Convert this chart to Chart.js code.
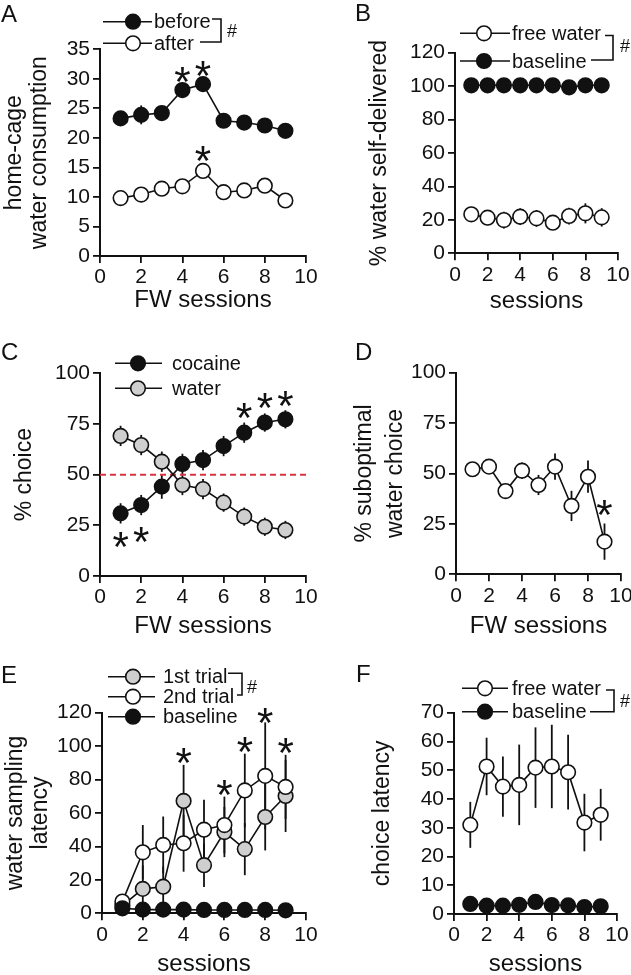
<!DOCTYPE html>
<html>
<head>
<meta charset="utf-8">
<script src="https://cdn.jsdelivr.net/npm/chart.js@4.4.1/dist/chart.umd.min.js"></script>
<style>
    html, body { margin: 0; padding: 0; background: #fff; }
    #wrap { position: relative; width: 631px; height: 975px; overflow: hidden; }
    #wrap canvas { position: absolute; left: 0; top: 0; }
</style>
</head>
<body>
<div id="wrap">
    <canvas id="chartA" width="631" height="975"></canvas>
    <canvas id="chartB" width="631" height="975"></canvas>
    <canvas id="chartC" width="631" height="975"></canvas>
    <canvas id="chartD" width="631" height="975"></canvas>
    <canvas id="chartE" width="631" height="975"></canvas>
    <canvas id="chartF" width="631" height="975"></canvas>
</div>
<script>
// Data
const sessions = [1, 2, 3, 4, 5, 6, 7, 8, 9];
const xTicks = [0, 2, 4, 6, 8, 10];

// A - home-cage water consumption
const yTicksA = [0, 5, 10, 15, 20, 25, 30, 35];
const beforeA = [23.3, 23.9, 24.2, 28.1, 29.1, 22.9, 22.6, 22.1, 21.2];
const beforeAErr = [0.9, 1.6, 0.9, 1.0, 1.0, 0.8, 0.8, 0.8, 0.8];
const afterA = [9.8, 10.4, 11.4, 11.8, 14.4, 10.8, 11.1, 11.9, 9.4];
const afterAErr = [0.6, 0.7, 0.8, 0.8, 1.0, 0.8, 0.8, 0.8, 0.7];
const starsA = [[4, 31.2], [5, 32.1], [5, 17.7]];

// B - % water self-delivered
const yTicksB = [0, 20, 40, 60, 80, 100, 120];
const freeB = [23.3, 21.3, 19.9, 21.9, 20.9, 18.3, 22.3, 23.9, 21.5];
const freeBErr = [4.5, 4.5, 5, 5, 5, 4, 5, 6, 5.5];
const baseB = [100.5, 100.5, 100.5, 100.5, 100.5, 100.5, 99.3, 100.5, 100.5];

// C - % choice
const yTicksC = [0, 25, 50, 75, 100];
const cocaineC = [30.9, 35.0, 44.1, 55.3, 57.2, 64.1, 70.7, 75.7, 77.3];
const cocaineCErr = [5, 5, 6, 5, 5, 5, 5, 4.5, 4.5];
const waterC = [69.1, 64.6, 56.4, 44.9, 42.9, 36.2, 29.3, 24.3, 22.7];
const waterCErr = [5, 5, 5, 5, 5, 4.5, 4.5, 4.5, 4.5];
const chanceC = 50;
const starsC = [[1, 19.4], [2, 21.8], [7, 82.7], [8, 87.7], [9, 88.8]];

// D - % suboptimal water choice
const yTicksD = [0, 25, 50, 75, 100];
const suboptD = [52.1, 53.4, 41.3, 51.4, 44.3, 53.4, 33.9, 48.4, 16.2];
const suboptDErr = [1, 1, 2, 4, 5, 6.5, 7.5, 8, 9];
const starsD = [[9.0, 34.3]];

// E - water sampling latency
const yTicksE = [0, 20, 40, 60, 80, 100, 120];
const trial1E = [4.6, 14.6, 15.9, 67.2, 28.8, 48.6, 38.4, 57.6, 70.2];
const trial1EErr = [2, 14, 12, 21.6, 13, 15, 15.6, 20, 21.6];
const trial2E = [7.0, 36.5, 40.9, 41.9, 50.0, 52.8, 73.5, 82.2, 75.6];
const trial2EErr = [2, 16.3, 17, 17, 18, 17, 22, 32, 19.2];
const baseE = [3.0, 2.2, 2.2, 2.2, 2.0, 2.0, 2.0, 2.0, 1.8];
const baseEErr = [1, 0.5, 0.5, 0.5, 0.5, 0.5, 0.5, 0.5, 0.5];
const starsE = [[4, 95.7], [6, 76.7], [7, 102.6], [8, 119.6], [9, 101.7]];

// F - choice latency
const yTicksF = [0, 10, 20, 30, 40, 50, 60, 70];
const freeF = [31.0, 51.3, 44.3, 44.9, 50.9, 51.3, 49.3, 31.8, 34.5];
const freeFErr = [8, 10, 10.5, 14, 14, 14.5, 13, 10, 9];
const baseF = [3.5, 2.9, 2.9, 3.2, 4.2, 3.1, 3.0, 2.4, 2.7];

// Style
const FONT = "'Liberation Sans', Arial, Helvetica, sans-serif";
const INK = '#111';
const GREY = '#cfcfcf';
const W = 631, H = 975;
Chart.defaults.font.family = FONT;
Chart.defaults.color = INK;

const series = (vals, fill) => ({
    data: sessions.map((x, i) => ({ x, y: vals[i] })),
    borderColor: INK,
    borderWidth: 1.6,
    pointRadius: 7.3,
    pointBorderWidth: 1.6,
    pointBorderColor: INK,
    pointBackgroundColor: fill,
    tension: 0,
    clip: false
});

function extras(p) {
    return {
        id: 'extras' + p.letter,
        beforeDatasetsDraw(chart) {
            const { ctx, scales: { x, y } } = chart;
            ctx.save();
            ctx.strokeStyle = INK;
            ctx.lineWidth = 1.8;
            (p.errors || []).forEach(([vals, err]) => {
                sessions.forEach((s, i) => {
                    const px = x.getPixelForValue(s);
                    ctx.beginPath();
                    ctx.moveTo(px, y.getPixelForValue(Math.max(0, vals[i] - err[i])));
                    ctx.lineTo(px, y.getPixelForValue(vals[i] + err[i]));
                    ctx.stroke();
                });
            });
            ctx.restore();
        },
        afterDraw(chart) {
            const { ctx, scales: { x, y } } = chart;
            ctx.save();
            ctx.fillStyle = INK;
            ctx.strokeStyle = INK;

            // panel letter
            ctx.font = `24px ${FONT}`;
            ctx.textBaseline = 'alphabetic';
            ctx.textAlign = 'left';
            ctx.fillText(p.letter, p.letterPos[0], p.letterPos[1]);

            // stars
            ctx.font = `42px ${FONT}`;
            ctx.textAlign = 'center';
            (p.stars || []).forEach(([sx, sy]) => {
                ctx.fillText('*', x.getPixelForValue(sx), y.getPixelForValue(sy) + 42 * 0.57);
            });

            // legend
            const lg = p.legend;
            if (lg) {
                ctx.font = `20px ${FONT}`;
                ctx.textAlign = 'left';
                ctx.textBaseline = 'middle';
                lg.rows.forEach(r => {
                    ctx.lineWidth = 1.6;
                    ctx.beginPath();
                    ctx.moveTo(lg.x1, r.y);
                    ctx.lineTo(lg.x2, r.y);
                    ctx.stroke();
                    ctx.beginPath();
                    ctx.arc(lg.cx, r.y, 7.3, 0, Math.PI * 2);
                    ctx.fillStyle = r.fill;
                    ctx.fill();
                    ctx.stroke();
                    ctx.fillStyle = INK;
                    ctx.fillText(r.label, lg.tx, r.y + 1);
                });
                const b = lg.bracket;
                if (b) {
                    ctx.lineWidth = 1.6;
                    ctx.beginPath();
                    ctx.moveTo(b.topX, b.topY);
                    ctx.lineTo(b.right, b.topY);
                    ctx.lineTo(b.right, b.botY);
                    ctx.lineTo(b.botX, b.botY);
                    ctx.stroke();
                    ctx.font = `18px ${FONT}`;
                    ctx.fillText('#', b.hash[0], b.hash[1]);
                }
            }
            ctx.restore();
        }
    };
}

function makePanel(id, p) {
    const yLine = p.yFont * (p.yLineH || 1.2);
    const xLine = 24 * 1.2;
    const padLeft = p.yTitleX - yLine / 2;
    const yWidth = p.area.l - padLeft;
    const xHeight = p.xTitleY + xLine / 2 - p.area.b;
    const noPad = s => { s.paddingLeft = 0; s.paddingRight = 0; s.paddingTop = 0; s.paddingBottom = 0; };
    const axis = {
        grid: { display: true, drawOnChartArea: false, drawTicks: true, tickLength: 7, color: INK, lineWidth: 1.8 },
        border: { display: true, color: INK, width: 2 }
    };
    return new Chart(document.getElementById(id), {
        type: 'line',
        data: { datasets: p.datasets },
        options: {
            responsive: false,
            animation: false,
            events: [],
            layout: { padding: { left: padLeft, top: p.area.t, right: W - p.area.r, bottom: H - p.area.b - xHeight } },
            plugins: { legend: { display: false }, tooltip: { enabled: false } },
            scales: {
                x: {
                    type: 'linear', min: 0, max: 10, ...axis,
                    afterBuildTicks: s => { s.ticks = xTicks.map(v => ({ value: v })); },
                    ticks: { font: { size: 21 }, color: INK, padding: 2, maxRotation: 0, autoSkip: false },
                    title: { display: true, text: p.xTitle, font: { size: 24 }, color: INK, padding: 0 },
                    afterFit: s => { s.height = xHeight; noPad(s); }
                },
                y: {
                    type: 'linear', min: 0, max: p.yTicks[p.yTicks.length - 1], ...axis,
                    afterBuildTicks: s => { s.ticks = p.yTicks.map(v => ({ value: v })); },
                    ticks: { font: { size: 21 }, color: INK, padding: 3, autoSkip: false },
                    title: { display: true, text: p.yTitle, font: { size: p.yFont, lineHeight: p.yLineH || 1.2 }, color: INK, padding: 0 },
                    afterFit: s => { s.width = yWidth; noPad(s); }
                }
            }
        },
        plugins: [extras(p)]
    });
}

// Panel A
makePanel('chartA', {
    letter: 'A', letterPos: [1, 22],
    area: { l: 100, t: 49.3, r: 306, b: 256 },
    yTicks: yTicksA, xTitle: 'FW sessions', xTitleY: 300,
    yTitle: ['home-cage', 'water consumption'], yTitleX: 14.4, yFont: 23, yLineH: 1.09,
    datasets: [series(beforeA, INK), series(afterA, '#fff')],
    errors: [[beforeA, beforeAErr], [afterA, afterAErr]],
    stars: starsA,
    legend: {
        x1: 103, x2: 152, cx: 133, tx: 154,
        rows: [{ y: 21.7, label: 'before', fill: INK }, { y: 43.3, label: 'after', fill: '#fff' }],
        bracket: { topX: 212, topY: 19, botX: 200, botY: 42, right: 221, hash: [227, 32] }
    }
});

// Panel B
makePanel('chartB', {
    letter: 'B', letterPos: [355, 20.5],
    area: { l: 455, t: 52.7, r: 618, b: 253.3 },
    yTicks: yTicksB, xTitle: 'sessions', xTitleY: 301.7,
    yTitle: '% water self-delivered', yTitleX: 380, yFont: 23,
    datasets: [series(baseB, INK), series(freeB, '#fff')],
    errors: [[freeB, freeBErr]],
    legend: {
        x1: 460, x2: 510, cx: 484, tx: 512,
        rows: [{ y: 33.3, label: 'free water', fill: '#fff' }, { y: 61, label: 'baseline', fill: INK }],
        bracket: { topX: 605, topY: 35.5, botX: 591, botY: 60, right: 613, hash: [620, 47] }
    }
});

// Panel C
const chanceLine = {
    data: [{ x: 0, y: chanceC }, { x: 10, y: chanceC }],
    borderColor: '#d9343f', borderWidth: 2, borderDash: [6, 4],
    pointRadius: 0, tension: 0
};
makePanel('chartC', {
    letter: 'C', letterPos: [1, 360],
    area: { l: 100, t: 373.3, r: 306, b: 576 },
    yTicks: yTicksC, xTitle: 'FW sessions', xTitleY: 626,
    yTitle: '% choice', yTitleX: 25, yFont: 23,
    datasets: [series(cocaineC, INK), series(waterC, GREY), chanceLine],
    errors: [[cocaineC, cocaineCErr], [waterC, waterCErr]],
    stars: starsC,
    legend: {
        x1: 115, x2: 162, cx: 138, tx: 172,
        rows: [{ y: 363.3, label: 'cocaine', fill: INK }, { y: 388.3, label: 'water', fill: GREY }]
    }
});

// Panel D
makePanel('chartD', {
    letter: 'D', letterPos: [355, 360],
    area: { l: 456, t: 372.7, r: 621, b: 574.3 },
    yTicks: yTicksD, xTitle: 'FW sessions', xTitleY: 626,
    yTitle: ['% suboptimal', 'water choice'], yTitleX: 364.4, yFont: 23, yLineH: 1.37,
    datasets: [series(suboptD, '#fff')],
    errors: [[suboptD, suboptDErr]],
    stars: starsD
});

// Panel E
makePanel('chartE', {
    letter: 'E', letterPos: [1, 683],
    area: { l: 102, t: 712.7, r: 306, b: 913.3 },
    yTicks: yTicksE, xTitle: 'sessions', xTitleY: 964,
    yTitle: ['water sampling', 'latency'], yTitleX: 16, yFont: 23, yLineH: 1.09,
    datasets: [series(baseE, INK), series(trial2E, '#fff'), series(trial1E, GREY)],
    errors: [[trial1E, trial1EErr], [trial2E, trial2EErr], [baseE, baseEErr]],
    stars: starsE,
    legend: {
        x1: 108, x2: 155, cx: 133, tx: 163,
        rows: [
            { y: 676.7, label: '1st trial', fill: GREY },
            { y: 696.7, label: '2nd trial', fill: '#fff' },
            { y: 716.7, label: 'baseline', fill: INK }
        ],
        bracket: { topX: 228, topY: 673.3, botX: 237, botY: 695, right: 242, hash: [247, 688] }
    }
});

// Panel F
makePanel('chartF', {
    letter: 'F', letterPos: [356, 682],
    area: { l: 454, t: 712.7, r: 617, b: 914 },
    yTicks: yTicksF, xTitle: 'sessions', xTitleY: 964,
    yTitle: 'choice latency', yTitleX: 383, yFont: 23,
    datasets: [series(baseF, INK), series(freeF, '#fff')],
    errors: [[freeF, freeFErr]],
    legend: {
        x1: 462, x2: 508, cx: 485, tx: 512,
        rows: [{ y: 688.3, label: 'free water', fill: '#fff' }, { y: 711.7, label: 'baseline', fill: INK }],
        bracket: { topX: 606, topY: 690, botX: 590, botY: 711.7, right: 614, hash: [620, 701.7] }
    }
});
</script>
</body>
</html>
